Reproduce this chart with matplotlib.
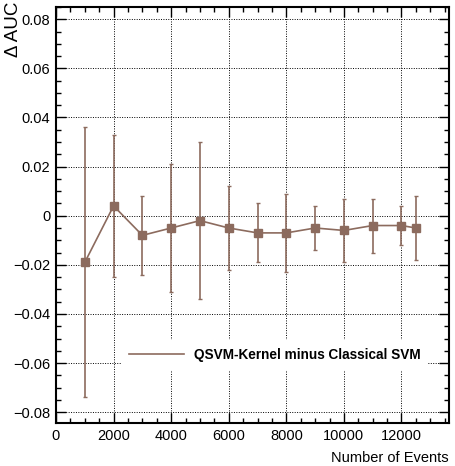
import matplotlib
matplotlib.use("Agg")
import matplotlib.pyplot as plt
from matplotlib.ticker import MultipleLocator

n_events = [1000, 2000, 3000, 4000, 5000, 6000, 7000, 8000, 9000, 10000, 11000, 12000, 12500]
delta_auc = [-0.019, 0.004, -0.008, -0.005, -0.002, -0.005, -0.007, -0.007, -0.005, -0.006, -0.004, -0.004, -0.005]
delta_err = [0.055, 0.029, 0.016, 0.026, 0.032, 0.017, 0.012, 0.016, 0.009, 0.013, 0.011, 0.008, 0.013]
series_label = "QSVM-Kernel minus Classical SVM"

plt.rcParams['font.family'] = ['Liberation Sans', 'DejaVu Sans']
color = '#8c6b5e'

fig = plt.figure(figsize=(4.56, 4.66), dpi=100)
ax = fig.add_axes([56/456, 1-423/466, (449-56)/456, (423-6.7)/466])

ax.errorbar(n_events, delta_auc, yerr=delta_err, color=color, lw=1.2,
            marker='s', ms=6, mec=color, mfc=color, elinewidth=1.2,
            capsize=1.5, capthick=1.0, zorder=3)
ax.plot([], [], color=color, lw=1.2, label=series_label)

ax.set_xlim(0, 13650)
ax.set_ylim(-0.0844, 0.0851)
ax.xaxis.set_major_locator(MultipleLocator(2000))
ax.xaxis.set_minor_locator(MultipleLocator(500))
ax.yaxis.set_major_locator(MultipleLocator(0.02))
ax.yaxis.set_minor_locator(MultipleLocator(0.005))

def yfmt(v, pos):
    if abs(v) < 1e-9:
        return '0'
    s = f"{v:.2f}"
    return s.replace('-', '\u2212')
ax.yaxis.set_major_formatter(plt.FuncFormatter(yfmt))

ax.tick_params(which='both', direction='in', top=True, right=True, labelsize=10.5, pad=4)
ax.tick_params(which='major', length=7, width=1)
ax.tick_params(which='minor', length=3.5, width=1)
for s in ax.spines.values():
    s.set_linewidth(1.5)

ax.grid(True, which='major', color='black', linestyle=(0, (1, 1.5)), linewidth=0.7, zorder=4)
ax.set_axisbelow(False)

fig.text(14/456, 1-2/466, '\u0394 AUC', rotation=90, ha='center', va='top', fontsize=13.5)
ax.set_xlabel('Number of Events', fontsize=10.5, loc='right', labelpad=6)

leg = ax.legend(loc='center left', bbox_to_anchor=((121-56)/393, (423-375)/416.3, (427-121)/393, 40/416.3),
                mode='expand', frameon=True, fancybox=False, edgecolor='none', facecolor='white',
                framealpha=1, handlelength=4.0, handletextpad=0.8, borderaxespad=0, borderpad=0.6,
                prop={'weight': 'bold', 'size': 9.8})
leg.set_zorder(5)

fig.savefig('out.png', dpi=100)
